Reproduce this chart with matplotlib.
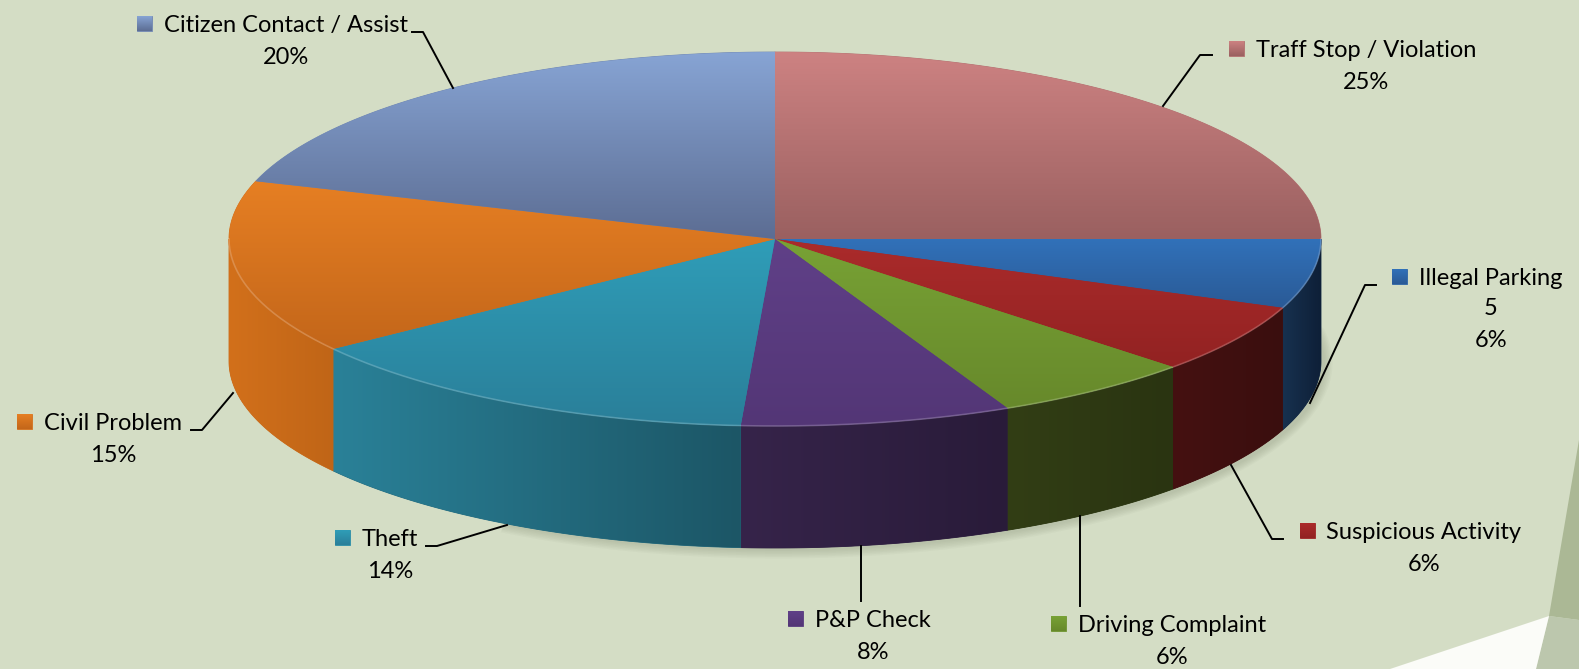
import numpy as np
import matplotlib
matplotlib.use('Agg')
from matplotlib import pyplot as plt
from matplotlib.patches import Polygon
from matplotlib.colors import LinearSegmentedColormap

# slices go clockwise from 3 o'clock
categories = ['Illegal Parking', 'Suspicious Activity', 'Driving Complaint', 'P&P Check',
              'Theft', 'Civil Problem', 'Citizen Contact / Assist', 'Traff Stop / Violation']
percents = [6, 6, 6, 8, 14, 15, 20, 25]
extra_value = {'Illegal Parking': 5}

top_colors = [('#3171b9', '#2a5a96'), ('#ab2b2b', '#922222'), ('#78a235', '#67892b'),
              ('#604088', '#533676'), ('#2f9db8', '#2a7f99'), ('#e67f23', '#c3661a'),
              ('#87a4d4', '#5c6d93'), ('#cd8282', '#9a6060')]
side_colors = [('#17314f', '#0e1f37'), ('#451111', '#3a0e0e'), ('#323e15', '#2a3411'),
               ('#36244a', '#291b39'), ('#2a8198', '#1c5666'), ('#d2701b', '#c06517'),
               ('#5c6d93', '#4a5878'), ('#9a6060', '#7a4a4a')]

# label layout: text centre x, name baseline, leader points
label_pos = {
    'Citizen Contact / Assist': (286, 32, [(412, 32), (423, 32), (453, 88)]),
    'Traff Stop / Violation': (1366, 57, [(1212, 55), (1200, 55), (1163, 106)]),
    'Illegal Parking': (1491, 285, [(1376, 285), (1365, 285), (1310, 403)]),
    'Suspicious Activity': (1424, 539, [(1283, 539), (1272, 539), (1231, 465)]),
    'Driving Complaint': (1172, 632, [(1080, 606), (1080, 516)]),
    'P&P Check': (873, 627, [(861, 601), (861, 546)]),
    'Theft': (390, 546, [(426, 546), (437, 546), (507, 525)]),
    'Civil Problem': (113, 430, [(191, 430), (202, 430), (233, 393)]),
}

bg = '#d4ddc5'
cx, cy, rx, ry, depth = 775, 239, 546, 187, 122

plt.rcParams['font.family'] = ['Lato', 'DejaVu Sans']

fig = plt.figure(figsize=(15.79, 6.69), dpi=100, facecolor=bg)
ax = fig.add_axes([0, 0, 1, 1])
ax.set_facecolor(bg)


def grad_fill(verts, c0, c1, horizontal=False, z=2):
    verts = np.asarray(verts)
    cmap = LinearSegmentedColormap.from_list('g', [c0, c1])
    base = Polygon(verts, closed=True, facecolor=cmap(0.5), edgecolor=cmap(0.5), lw=0.6, zorder=z)
    ax.add_patch(base)
    x0, x1 = verts[:, 0].min(), verts[:, 0].max()
    y0, y1 = verts[:, 1].min(), verts[:, 1].max()
    t = np.linspace(0, 1, 256)
    arr = t[None, :] if horizontal else t[:, None]
    im = ax.imshow(arr, cmap=cmap, extent=(x0, x1, y1, y0), origin='upper',
                   aspect='auto', interpolation='bilinear', zorder=z + 0.1)
    im.set_clip_path(base)


# background decoration bottom right
ax.add_patch(Polygon([(1579, 440), (1579, 620), (1549, 616)], facecolor='#abb895', lw=0, zorder=0.5))
ax.add_patch(Polygon([(1549, 616), (1579, 620), (1579, 669), (1536, 669)], facecolor='#bcc7ad', lw=0, zorder=0.5))
ax.add_patch(Polygon([(1390, 669), (1549, 616), (1536, 669)], facecolor='#fbfcf8', lw=0, zorder=0.5))

# soft shadow under the pie (front right only)
g = np.linspace(np.radians(-10), np.radians(120), 100)
for k in range(6):
    e = 1 + k * 1.5
    outer = np.column_stack([cx + 3 + (rx + e) * np.cos(g), cy + depth + 2 + (ry + e) * np.sin(g)])
    inner = np.column_stack([cx + rx * 0.9 * np.cos(g[::-1]), cy + depth * 0.5 + ry * 0.9 * np.sin(g[::-1])])
    ax.add_patch(Polygon(np.vstack([outer, inner]), facecolor='#4a5238', alpha=0.03, lw=0, zorder=1))

edges = np.concatenate([[0], np.cumsum(percents)]) / sum(percents) * 360.0

# side walls (front half only)
for i in range(len(percents)):
    a0, a1 = edges[i], min(edges[i + 1], 180)
    if a0 >= 180:
        continue
    t = np.radians(np.linspace(a0, a1, 80))
    top = np.column_stack([cx + rx * np.cos(t), cy + ry * np.sin(t)])
    bot = top[::-1] + [0, depth]
    grad_fill(np.vstack([top, bot]), side_colors[i][0], side_colors[i][1], horizontal=True, z=2)

# top faces
for i in range(len(percents)):
    t = np.radians(np.linspace(edges[i], edges[i + 1], 120))
    arc = np.column_stack([cx + rx * np.cos(t), cy + ry * np.sin(t)])
    grad_fill(np.vstack([[cx, cy], arc]), top_colors[i][0], top_colors[i][1], z=3)

# rim highlight
t = np.radians(np.linspace(0, 180, 200))
ax.plot(cx + rx * np.cos(t), cy + ry * np.sin(t), color='white', alpha=0.2, lw=1.2, zorder=4)

# labels
fs = 17
names = {}
for i, cat in enumerate(categories):
    x, base, leader = label_pos[cat]
    names[cat] = ax.text(x, base, cat, ha='center', va='baseline', fontsize=fs, color='black', zorder=6)
    lines = ['%d%%' % percents[i]]
    if cat in extra_value:
        lines = [str(extra_value[cat])] + lines
    for j, s in enumerate(lines):
        ax.text(x, base + 32 * (j + 1) - (2 if len(lines) > 1 else 0), s, ha='center', va='baseline',
                fontsize=fs, color='black', zorder=6)
    lx, ly = zip(*leader)
    ax.plot(lx, ly, color='black', lw=1.4, zorder=5)

ax.set_xlim(0, 1579)
ax.set_ylim(669, 0)
ax.axis('off')

fig.canvas.draw()
r = fig.canvas.get_renderer()
inv = ax.transData.inverted()
for i, cat in enumerate(categories):
    bb = names[cat].get_window_extent(r)
    left = inv.transform((bb.x0, bb.y0))[0]
    base = label_pos[cat][1]
    grad_fill([(left - 27, base - 16), (left - 12, base - 16), (left - 12, base - 1), (left - 27, base - 1)],
              top_colors[i][0], top_colors[i][1], z=6)

ax.set_xlim(0, 1579)
ax.set_ylim(669, 0)
fig.savefig('out.png', dpi=100, facecolor=bg)
